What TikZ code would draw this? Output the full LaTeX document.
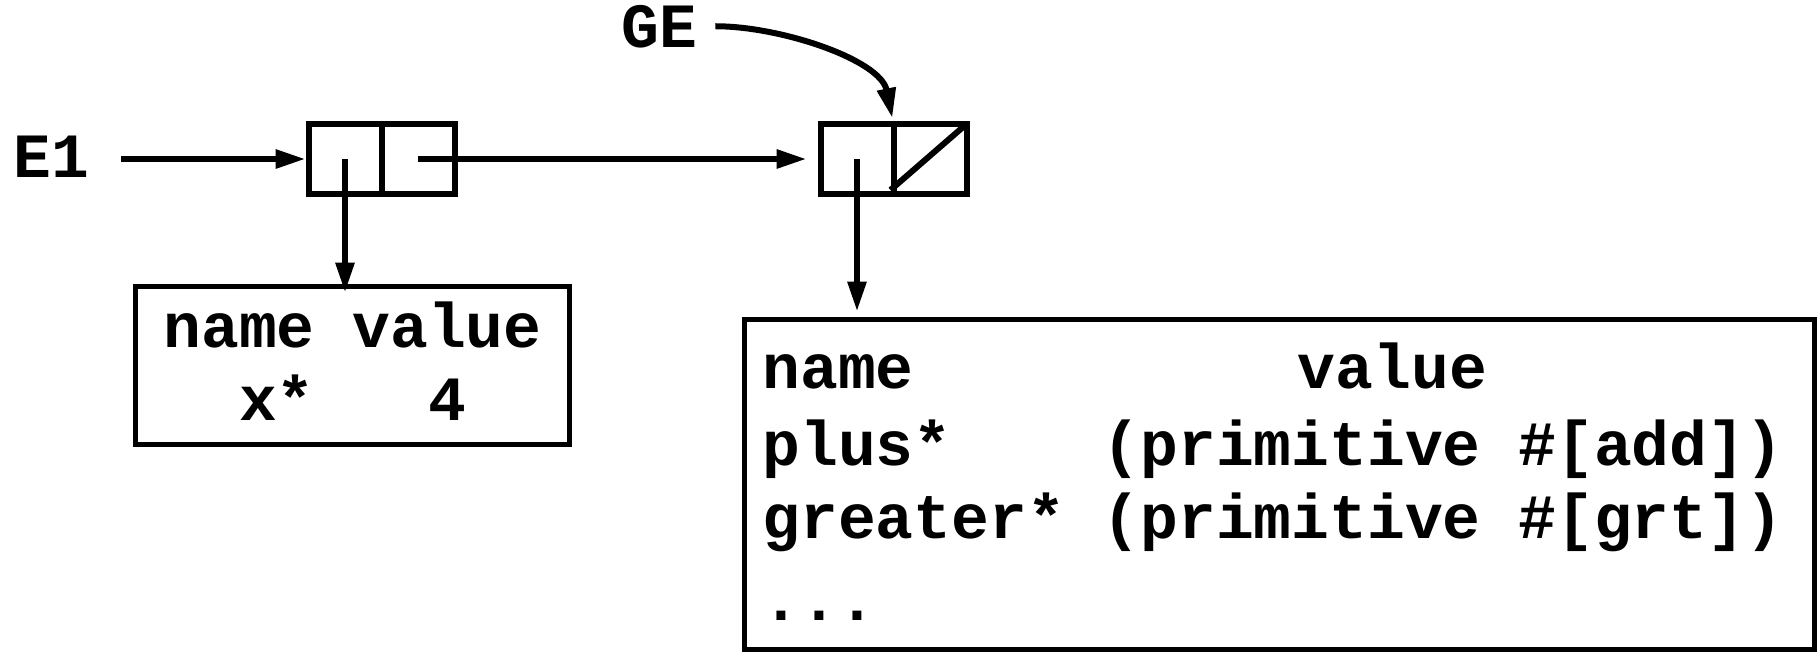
\documentclass[tikz,border=0pt]{standalone}
\usepackage{fontspec}
\newfontfamily\codefont{Liberation Mono}
\usetikzlibrary{arrows.meta,calc}
\begin{document}
\begin{tikzpicture}[x=0.5pt,y=-0.5pt,
  txt/.style={font=\codefont\bfseries\fontsize{31.5}{37}\selectfont, inner sep=0pt},
  cell/.style={draw, line width=3pt, minimum width=36.5pt, minimum height=35pt,
               inner sep=0pt, outer sep=0pt},
  frame/.style={draw, line width=2.75pt, inner sep=0pt, outer sep=0pt},
  ptr/.style={line width=3pt, -{Triangle[length=15pt,width=9pt]}}]
\useasboundingbox (0,0) rectangle (1820,655);

% environment labels
\node[txt, anchor=base west] (E1) at (13,177) {E1};
\node[txt, anchor=base west] (GE) at (621,47) {GE};

% environment pairs
\node[cell] (b1l) at (345,159) {};
\node[cell] (b1r) at (418,159) {};
\node[cell] (b2l) at (857,159) {};
\node[cell] (b2r) at (930,159) {};
\draw[line width=3pt] ($(b2r.south west)+(-3,-4)$) -- (b2r.north east);

% frames
\node[frame, minimum width=217pt, minimum height=79pt] (t1) at (352.5,365.5) {};
\node[frame, minimum width=535pt, minimum height=165pt] (t2) at (1279.5,484.5) {};

\node[txt, anchor=base] (t1h) at (352.5,347) {name value};
\node[txt, anchor=base] (t1r) at (352.5,420) {x*~~~4};

\node[txt, anchor=base west] (t2h) at (762,388) {name\hspace{6.1em}value};
\node[txt, anchor=base west] (t2a) at (762,465) {plus*~~~~(primitive~\#[add])};
\node[txt, anchor=base west] (t2b) at (762,538) {greater*~(primitive~\#[grt])};
\node[txt, anchor=base west] (t2c) at (762,620) {...};

% pointers
\draw[ptr, shorten <=16pt, shorten >=1.5pt] (E1.east |- b1l.west) -- (b1l.west);
\draw[ptr, shorten >=7pt] (b1r.center) -- (b2l.west);
\draw[ptr, shorten >=-3pt] (b1l.center) -- (b1l.center |- t1.north);
\draw[ptr, shorten >=4pt] (b2l.center) -- (b2l.center |- t2.north);
\draw[ptr, shorten <=9pt, shorten >=3pt] (GE.east) .. controls +(84,0) and +(-13,-64) .. (b2l.north east);
\end{tikzpicture}
\end{document}
